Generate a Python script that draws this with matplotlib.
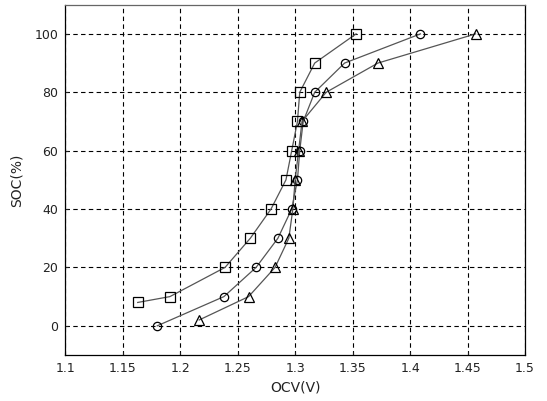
import matplotlib
matplotlib.use("Agg")
import matplotlib.pyplot as plt

soc_sq = [8, 10, 20, 30, 40, 50, 60, 70, 80, 90, 100]
ocv_sq = [1.163, 1.191, 1.239, 1.261, 1.279, 1.292, 1.297, 1.302, 1.304, 1.317, 1.353]

soc_ci = [0, 10, 20, 30, 40, 50, 60, 70, 80, 90, 100]
ocv_ci = [1.180, 1.238, 1.266, 1.285, 1.297, 1.302, 1.304, 1.307, 1.317, 1.343, 1.409]

soc_tr = [2, 10, 20, 30, 40, 50, 60, 70, 80, 90, 100]
ocv_tr = [1.2165, 1.2595, 1.2825, 1.2945, 1.298, 1.300, 1.303, 1.306, 1.327, 1.372, 1.457]

xticks = [1.1, 1.15, 1.2, 1.25, 1.3, 1.35, 1.4, 1.45, 1.5]
xticklabels = ["1.1", "1.15", "1.2", "1.25", "1.3", "1.35", "1.4", "1.45", "1.5"]
yticks = [0, 20, 40, 60, 80, 100]

fig = plt.figure(figsize=(5.47, 4.01), dpi=100)
ax = fig.add_axes([65.3 / 547, 1 - 355 / 401, (525 - 65.3) / 547, (355 - 4.7) / 401])

for x, y, m, ms in [(ocv_sq, soc_sq, "s", 7), (ocv_ci, soc_ci, "o", 6), (ocv_tr, soc_tr, "^", 7)]:
    ax.plot(x, y, color="#555555", lw=0.9, marker=m, markersize=ms,
            markerfacecolor="none", markeredgecolor="black", markeredgewidth=0.9)

ax.set_xlim(1.1, 1.5)
ax.set_ylim(-10, 110)
ax.set_xticks(xticks)
ax.set_xticklabels(xticklabels)
ax.set_yticks(yticks)
ax.grid(True, color="black", linestyle=(0, (4, 3)), linewidth=0.8)
ax.tick_params(direction="in", length=2, labelsize=9, colors="#222222", pad=5)
for s in ax.spines.values():
    s.set_color("black")
    s.set_linewidth(0.9)
ax.spines["top"].set_color("#666666")
ax.set_xlabel("OCV(V)", fontsize=10, labelpad=4, color="#222222")
ax.set_ylabel("SOC(%)", fontsize=10, labelpad=8, color="#222222")

fig.savefig("out.png", dpi=100, facecolor="white")
